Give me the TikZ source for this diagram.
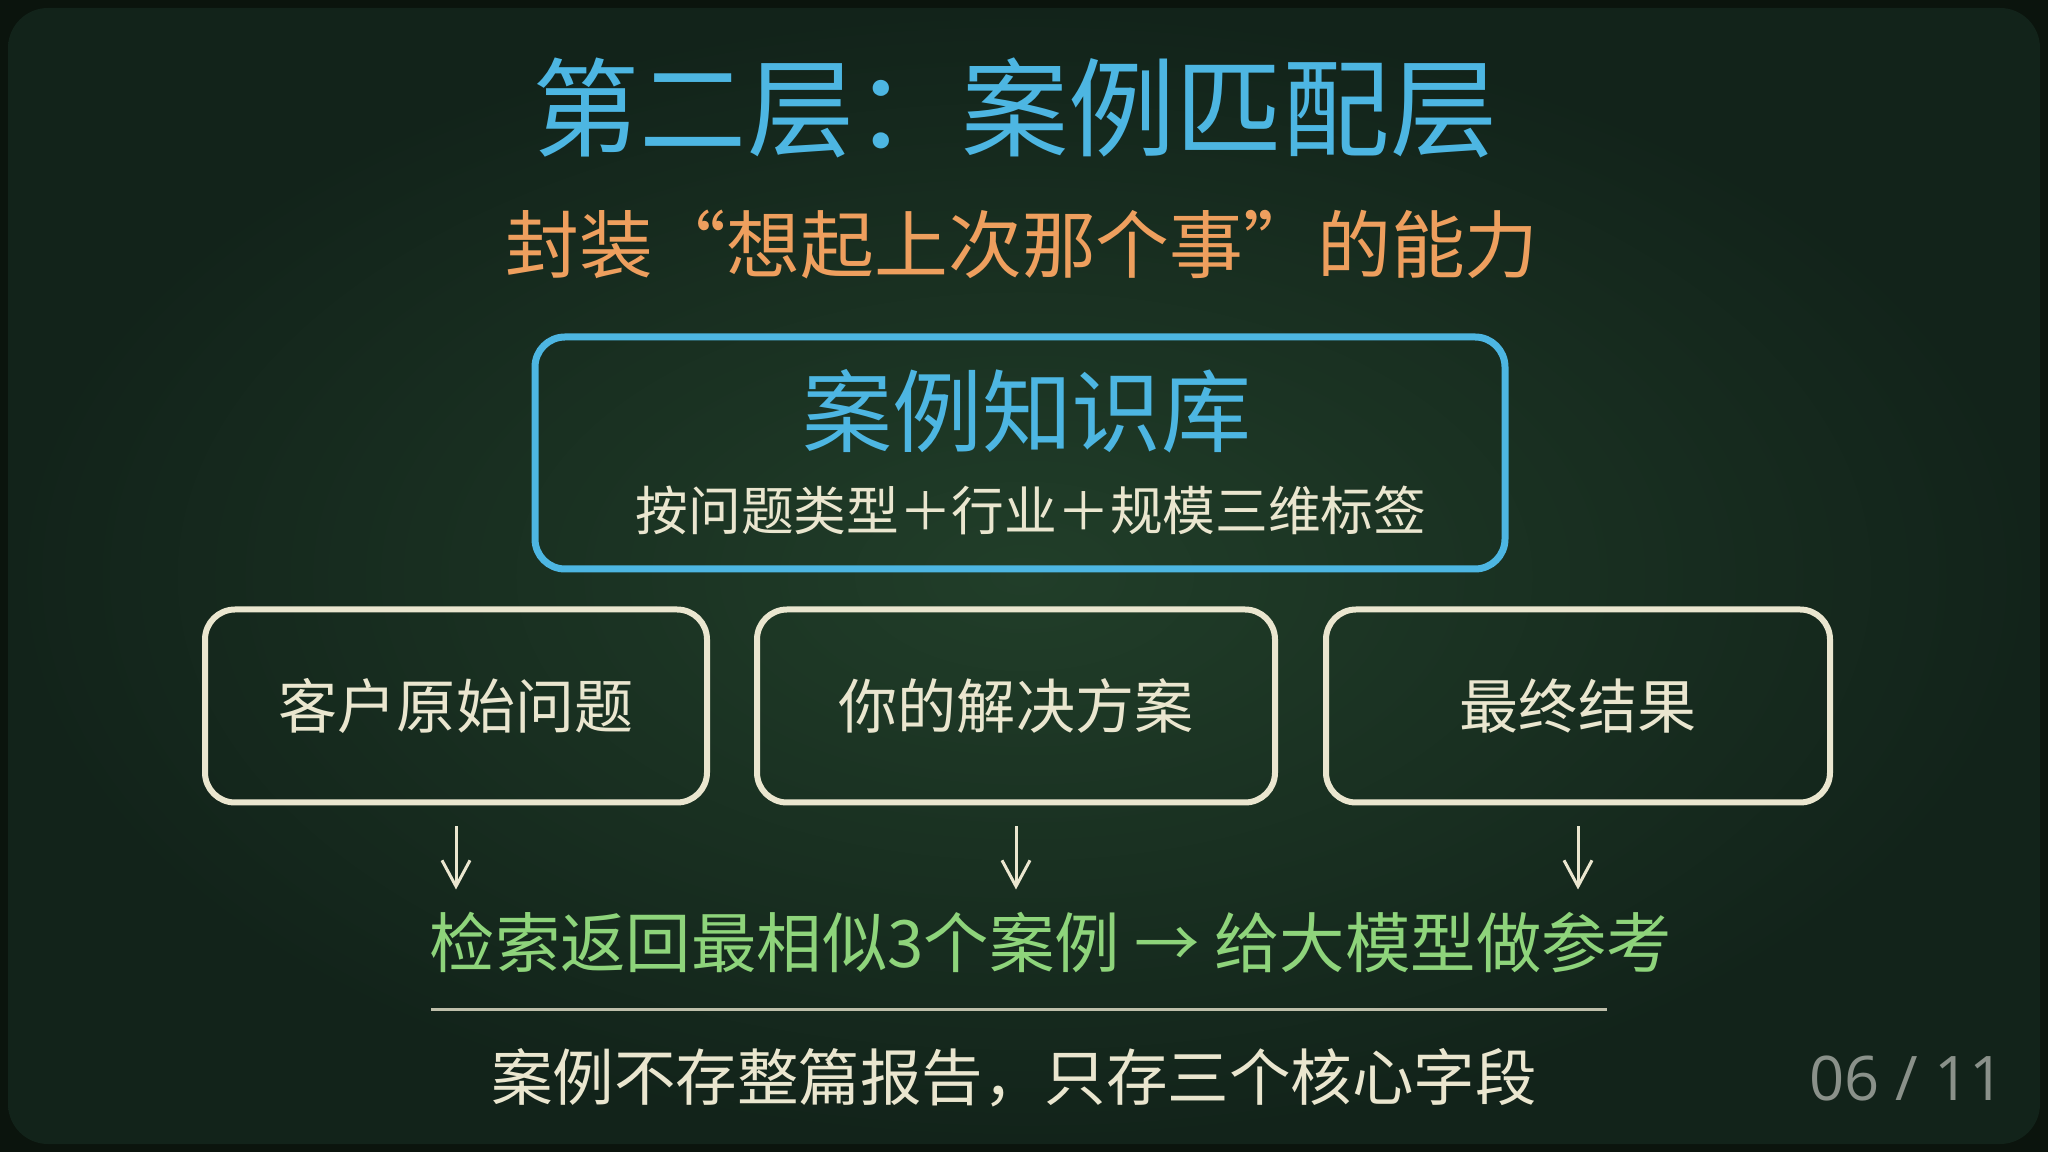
\documentclass[tikz,border=0pt]{standalone}
\usepackage{fontspec}
\setmainfont{Open Sans}
\newfontfamily\cjk{Noto Sans CJK SC}
\usepackage{xcolor}
\usetikzlibrary{arrows.meta,calc,positioning}

\definecolor{boardmid}{HTML}{213E29}
\definecolor{boardedge}{HTML}{12231A}
\definecolor{boardframe}{HTML}{0B140D}
\definecolor{chalkblue}{HTML}{4DB6E2}
\definecolor{chalkorange}{HTML}{EE9F5E}
\definecolor{chalkcream}{HTML}{EAE6CF}
\definecolor{chalkgreen}{HTML}{8ED47B}
\definecolor{pagegray}{HTML}{8A918A}

\newcommand{\chalksize}[1]{\fontsize{#1}{#1}\selectfont}

\tikzset{
  titletext/.style={text=chalkblue, font=\cjk\chalksize{30.5pt}},
  subtext/.style={text=chalkorange, font=\cjk\chalksize{21pt}},
  chalkbox/.style={draw=chalkcream, line width=0.6mm, rounded corners=3mm,
    text=chalkcream, font=\cjk\chalksize{16.8pt}},
  kbbox/.style={draw=chalkblue, line width=0.7mm, rounded corners=3mm},
  chalkarrow/.style={draw=chalkcream, line width=0.3mm,
    -{Straight Barb[length=2.6mm, width=2.8mm, line width=0.3mm]}},
}

\begin{document}
\begin{tikzpicture}[x=0.1mm, y=-0.1mm]

  % ----------------------
  % Lavagna (sfondo)
  % ----------------------
  \fill[boardframe] (0,0) rectangle (2048,1152);
  \shade[inner color=boardmid, outer color=boardedge, rounded corners=4mm]
    (8,8) rectangle (2040,1144);
  \useasboundingbox (0,0) rectangle (2048,1152);

  % ----------------------
  % Titolo e sottotitolo
  % ----------------------
  \node[titletext] (title) at (1015,108) {第二层：案例匹配层};
  \node[subtext] (subtitle) at (1022,245) {封装“想起上次那个事”的能力};

  % ----------------------
  % Riquadro blu: knowledge base
  % ----------------------
  \node[kbbox, minimum width=97mm, minimum height=23.2mm] (kb) at (1020,453) {};
  \node[text=chalkblue, font=\cjk\chalksize{25.6pt}] (kbtitle) at (1027,411) {案例知识库};
  \node[text=chalkcream, font=\cjk\chalksize{15pt}] (kbsub) at (1031,510) {按问题类型＋行业＋规模三维标签};

  % ----------------------
  % Tre riquadri (campi del caso)
  % ----------------------
  \foreach \nm/\cx/\w/\txt in {b1/456/50.2/客户原始问题, b2/1016/51.8/你的解决方案, b3/1578/50.4/最终结果}{
    \node[chalkbox, minimum width=\w mm, minimum height=19.3mm] (\nm) at (\cx,706) {\txt};
  }

  % ----------------------
  % Frecce verso il recupero
  % ----------------------
  \foreach \i in {1,2,3}{
    \coordinate (e\i) at ($(b\i.south)+(0,84)$);
    \draw[chalkarrow, shorten <=2.1mm] (b\i.south) -- (e\i);
  }

  \node[text=chalkgreen, font=\cjk\chalksize{18.6pt}] (ret) at (1051,943)
    {检索返回最相似3个案例 → 给大模型做参考};

  % ----------------------
  % Linea e nota finale
  % ----------------------
  \coordinate (ruleL) at (431,1010);
  \coordinate (ruleR) at (1607,1010);
  \draw[chalkcream, line width=0.3mm, opacity=0.8] (ruleL) -- (ruleR);

  \node[text=chalkcream, font=\cjk\chalksize{17.5pt}] (note) at (1014,1078)
    {案例不存整篇报告，只存三个核心字段};

  \node[text=pagegray, font=\chalksize{17.5pt}] (page) at (1907,1079) {06 / 11};

\end{tikzpicture}
\end{document}
